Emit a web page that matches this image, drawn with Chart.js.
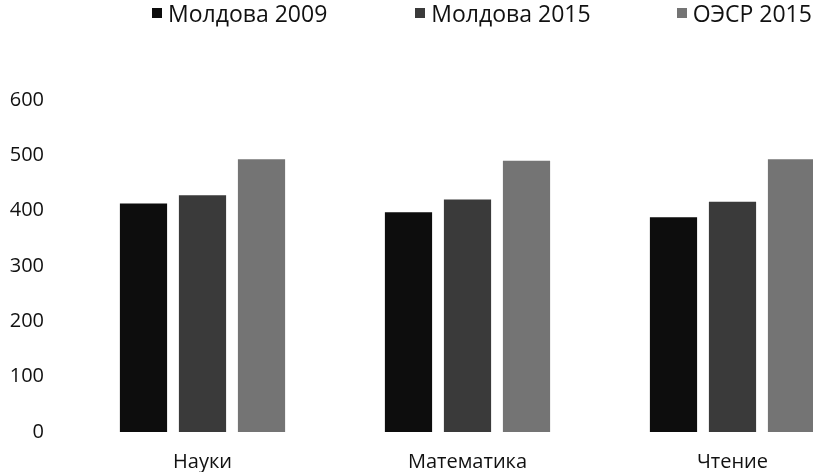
<!DOCTYPE html>
<html>
<head>
<meta charset="utf-8">
<script src="https://cdn.jsdelivr.net/npm/chart.js@4/dist/chart.umd.min.js"></script>
<style>
    html, body { margin: 0; padding: 0; background: #fff; overflow: hidden; }
    #wrap { position: relative; width: 866px; height: 472px; }
    #legend {
        position: absolute; top: -3px; left: 0px;
        display: flex; align-items: center;
        font-family: "Open Sans", sans-serif; font-size: 23px; color: #111;
    }
    .item { display: flex; align-items: center; white-space: nowrap; }
    .box { width: 10px; height: 10px; margin-right: 6px; }
</style>
</head>
<body>
<div id="wrap">
    <canvas id="pisaChart" width="866" height="472"></canvas>
    <div id="legend"></div>
</div>
<script>
const categories = ['Науки', 'Математика', 'Чтение'];
const seriesNames = ['Молдова 2009', 'Молдова 2015', 'ОЭСР 2015'];
const moldova2009 = [413, 397, 388];
const moldova2015 = [428, 420, 416];
const oecd2015 = [493, 490, 493];
const yTicks = [0, 100, 200, 300, 400, 500, 600];

const colors = ['#0d0d0d', '#3a3a3a', '#747474'];
const legendGaps = [152, 88, 86];

const ctx = document.getElementById('pisaChart').getContext('2d');
new Chart(ctx, {
    type: 'bar',
    data: {
        labels: categories,
        datasets: [moldova2009, moldova2015, oecd2015].map((values, i) => ({
            label: seriesNames[i],
            data: values,
            backgroundColor: colors[i],
            borderWidth: 0,
            categoryPercentage: 0.668,
            barPercentage: 0.8
        }))
    },
    options: {
        responsive: false,
        animation: false,
        layout: { padding: { top: 100, left: 0, right: 1, bottom: 0 } },
        plugins: {
            legend: { display: false },
            tooltip: { enabled: false }
        },
        scales: {
            x: {
                afterFit: scale => { scale.height = 40; },
                grid: { display: false, drawTicks: false },
                border: { display: false },
                ticks: {
                    padding: 18,
                    color: '#111',
                    font: { family: 'Open Sans', size: 20 }
                }
            },
            y: {
                min: 0,
                max: 600,
                afterBuildTicks: scale => { scale.ticks = yTicks.map(v => ({ value: v })); },
                afterFit: scale => { scale.width = 70; },
                grid: { display: false, drawTicks: false },
                border: { display: false },
                ticks: {
                    padding: 26,
                    color: '#111',
                    font: { family: 'Open Sans', size: 20 }
                }
            }
        }
    }
});

const legend = document.getElementById('legend');
seriesNames.forEach((name, i) => {
    const item = document.createElement('div');
    item.className = 'item';
    item.style.marginLeft = legendGaps[i] + 'px';
    const box = document.createElement('span');
    box.className = 'box';
    box.style.background = colors[i];
    const text = document.createElement('span');
    text.textContent = name;
    item.appendChild(box);
    item.appendChild(text);
    legend.appendChild(item);
});
</script>
</body>
</html>
